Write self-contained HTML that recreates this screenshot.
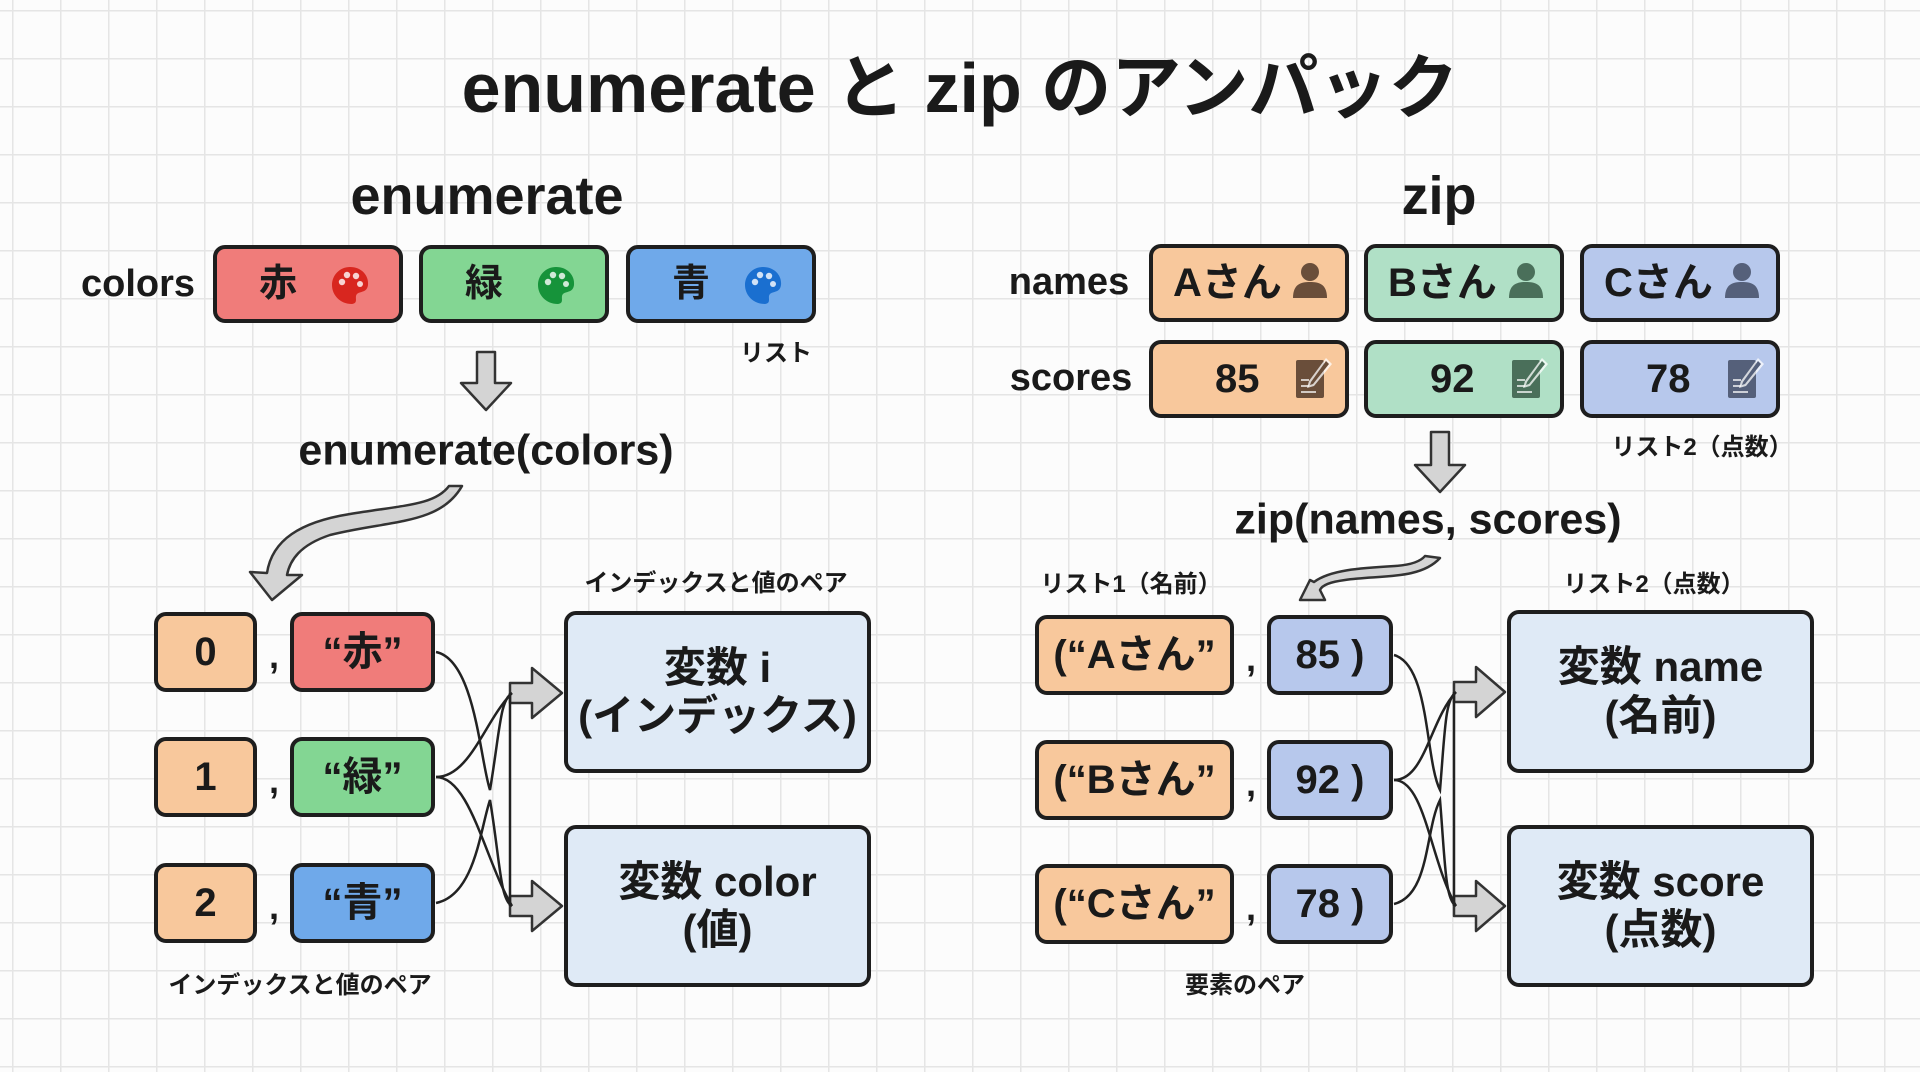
<!DOCTYPE html>
<html><head><meta charset="utf-8">
<style>
*{margin:0;padding:0;box-sizing:border-box}
body{width:1920px;height:1072px;position:relative;overflow:hidden;background:#fcfcfc;
background-image:linear-gradient(#e5e5e5 1.5px,transparent 1.5px),linear-gradient(90deg,#e5e5e5 1.5px,transparent 1.5px);background-size:48px 48px;background-position:12px 10px;
font-family:"Liberation Sans","Noto Sans CJK JP",sans-serif;font-weight:700;color:#1a1a1a}
.t{position:absolute;white-space:nowrap;transform:translate(-50%,-50%);line-height:1}
.b{position:absolute;border:4px solid #1e1e1e;border-radius:12px;display:flex;align-items:center;justify-content:center;line-height:1}
.r{background:#f07c7a}.g{background:#83d693}.bl{background:#6fa9ea}.o{background:#f8c89c}.m{background:#b0e0c6}.p{background:#b7c8ec}.lb{background:#dfeaf6}
svg{position:absolute;left:0;top:0}
</style></head><body>
<div class="t" style="left:960px;top:88px;font-size:70px">enumerate と zip のアンパック</div>
<div class="t" style="left:487px;top:196px;font-size:54px">enumerate</div>
<div class="t" style="left:1439px;top:196px;font-size:54px">zip</div>

<div class="t" style="left:138px;top:284px;font-size:38px">colors</div>
<div class="b r" style="left:213px;top:245px;width:190px;height:78px;font-size:38px">赤<span style="width:60px"></span></div>
<div class="b g" style="left:419px;top:245px;width:190px;height:78px;font-size:38px">緑<span style="width:60px"></span></div>
<div class="b bl" style="left:626px;top:245px;width:190px;height:78px;font-size:38px">青<span style="width:60px"></span></div>
<div class="t" style="left:776px;top:354px;font-size:24px">リスト</div>
<div class="t" style="left:486px;top:451px;font-size:43px">enumerate(colors)</div>

<div class="b o" style="left:154px;top:612px;width:103px;height:80px;font-size:40px">0</div>
<div class="b o" style="left:154px;top:737px;width:103px;height:80px;font-size:40px">1</div>
<div class="b o" style="left:154px;top:863px;width:103px;height:80px;font-size:40px">2</div>
<div class="t" style="left:274px;top:656px;font-size:36px">,</div>
<div class="t" style="left:274px;top:781px;font-size:36px">,</div>
<div class="t" style="left:274px;top:907px;font-size:36px">,</div>
<div class="b r" style="left:290px;top:612px;width:145px;height:80px;font-size:40px">“赤”</div>
<div class="b g" style="left:290px;top:737px;width:145px;height:80px;font-size:40px">“緑”</div>
<div class="b bl" style="left:290px;top:863px;width:145px;height:80px;font-size:40px">“青”</div>
<div class="t" style="left:716px;top:584px;font-size:24px">インデックスと値のペア</div>
<div class="t" style="left:300px;top:986px;font-size:24px">インデックスと値のペア</div>
<div class="b lb" style="left:564px;top:611px;width:307px;height:162px;font-size:42px;flex-direction:column;line-height:1.15">変数 i<br><span>(インデックス)</span></div>
<div class="b lb" style="left:564px;top:825px;width:307px;height:162px;font-size:42px;flex-direction:column;line-height:1.15">変数 color<br><span>(値)</span></div>

<div class="t" style="left:1069px;top:282px;font-size:38px">names</div>
<div class="t" style="left:1071px;top:378px;font-size:38px">scores</div>
<div class="b o" style="left:1149px;top:244px;width:200px;height:78px;font-size:40px;justify-content:flex-start;padding-left:20px">Aさん</div>
<div class="b m" style="left:1364px;top:244px;width:200px;height:78px;font-size:40px;justify-content:flex-start;padding-left:20px">Bさん</div>
<div class="b p" style="left:1580px;top:244px;width:200px;height:78px;font-size:40px;justify-content:flex-start;padding-left:20px">Cさん</div>
<div class="b o" style="left:1149px;top:340px;width:200px;height:78px;font-size:40px;justify-content:flex-start;padding-left:62px">85</div>
<div class="b m" style="left:1364px;top:340px;width:200px;height:78px;font-size:40px;justify-content:flex-start;padding-left:62px">92</div>
<div class="b p" style="left:1580px;top:340px;width:200px;height:78px;font-size:40px;justify-content:flex-start;padding-left:62px">78</div>
<div class="t" style="left:1702px;top:448px;font-size:24px">リスト2（点数）</div>
<div class="t" style="left:1428px;top:520px;font-size:43px">zip(names, scores)</div>
<div class="t" style="left:1131px;top:585px;font-size:24px">リスト1（名前）</div>
<div class="t" style="left:1654px;top:585px;font-size:24px">リスト2（点数）</div>

<div class="b o" style="left:1035px;top:615px;width:199px;height:80px;font-size:40px">(“Aさん”</div>
<div class="b o" style="left:1035px;top:740px;width:199px;height:80px;font-size:40px">(“Bさん”</div>
<div class="b o" style="left:1035px;top:864px;width:199px;height:80px;font-size:40px">(“Cさん”</div>
<div class="t" style="left:1251px;top:659px;font-size:36px">,</div>
<div class="t" style="left:1251px;top:784px;font-size:36px">,</div>
<div class="t" style="left:1251px;top:908px;font-size:36px">,</div>
<div class="b p" style="left:1267px;top:615px;width:126px;height:80px;font-size:40px">85 )</div>
<div class="b p" style="left:1267px;top:740px;width:126px;height:80px;font-size:40px">92 )</div>
<div class="b p" style="left:1267px;top:864px;width:126px;height:80px;font-size:40px">78 )</div>
<div class="t" style="left:1245px;top:986px;font-size:24px">要素のペア</div>
<div class="b lb" style="left:1507px;top:610px;width:307px;height:163px;font-size:42px;flex-direction:column;line-height:1.15">変数 name<br><span>(名前)</span></div>
<div class="b lb" style="left:1507px;top:825px;width:307px;height:162px;font-size:42px;flex-direction:column;line-height:1.15">変数 score<br><span>(点数)</span></div>

<svg width="1920" height="1072" viewBox="0 0 1920 1072">
<defs>
<g id="pal"><path d="M0,-18 C12,-18 19,-9 18,0 C17,8 10,6 7,9 C4,12 9,18 2,19 C-10,19 -18,10 -18,0 C-18,-10 -10,-18 0,-18Z"/><circle cx="-8" cy="-3" r="3.2" fill="#fff" opacity=".8"/><circle cx="-3" cy="-10" r="3.2" fill="#fff" opacity=".8"/><circle cx="6" cy="-9" r="3.2" fill="#fff" opacity=".8"/><circle cx="10" cy="-1" r="3" fill="#fff" opacity=".8"/></g>
<g id="per"><circle cx="0" cy="-9" r="9"/><path d="M-17,17 C-17,3 -9,1 0,1 C9,1 17,3 17,17Z"/></g>
<g id="note"><rect x="-16" y="-20" width="28" height="38" rx="2"/><g stroke="#fff" stroke-width="2" opacity=".7"><line x1="-11" y1="0" x2="-3" y2="0"/><line x1="-11" y1="6" x2="-3" y2="6"/><line x1="-11" y1="12" x2="4" y2="12"/></g><path d="M14,-22 L20,-16 L2,6 L-5,8 L-3,1Z" fill="#fff" opacity=".75"/><path d="M14,-19 L17,-16 L1,4 L-2,5 L-1,2Z"/></g>
</defs>
<use href="#pal" x="350" y="285" fill="#d8261f"/>
<use href="#pal" x="556" y="285" fill="#16933a"/>
<use href="#pal" x="763" y="285" fill="#1a6fd0"/>
<use href="#per" x="1310" y="281" fill="#6a4e3a"/>
<use href="#per" x="1526" y="281" fill="#4a6f5a"/>
<use href="#per" x="1742" y="281" fill="#55607a"/>
<use href="#note" x="1312" y="380" fill="#6a4e3a"/>
<use href="#note" x="1528" y="380" fill="#4a6f5a"/>
<use href="#note" x="1744" y="380" fill="#55607a"/>
<g fill="#d4d4d4" stroke="#333" stroke-width="2.5" stroke-linejoin="round">
<path d="M477,352 L495,352 L495,383 L511,383 L486,410 L461,383 L477,383Z"/>
<path d="M1431,432 L1449,432 L1449,465 L1465,465 L1440,492 L1415,465 L1431,465Z"/>
<path d="M449,486 L462,486 C440,525 390,520 330,535 C300,545 290,560 287,575 L302,575 L272,600 L250,572 L267,573 C272,540 300,522 350,514 C405,505 435,505 449,486Z"/>
<path d="M1425,556 L1440,558 C1420,580 1380,575 1345,580 C1330,582 1322,585 1320,590 L1325,600 L1300,600 L1310,580 L1314,582 C1330,570 1360,568 1395,566 C1410,565 1420,562 1425,556Z"/>
<path d="M510,683 L532,683 L532,668 L562,693 L532,718 L532,703 L510,703Z"/>
<path d="M510,896 L532,896 L532,881 L562,906 L532,931 L532,916 L510,916Z"/>
<path d="M1454,682 L1476,682 L1476,667 L1505,692 L1476,717 L1476,702 L1454,702Z"/>
<path d="M1454,896 L1476,896 L1476,881 L1505,906 L1476,931 L1476,916 L1454,916Z"/>
</g>
<g fill="none" stroke="#222" stroke-width="2.5">
<path d="M436,652 C475,660 480,760 490,790 C500,730 500,700 512,693"/>
<path d="M436,777 C470,777 485,720 512,693"/>
<path d="M436,777 C470,777 485,860 512,906"/>
<path d="M436,903 C475,895 480,830 490,800 C500,860 500,900 512,906"/>
<line x1="510" y1="693" x2="510" y2="906"/>
<path d="M1394,655 C1430,665 1425,760 1440,790 C1445,730 1445,700 1456,692"/>
<path d="M1394,780 C1425,780 1430,720 1456,692"/>
<path d="M1394,780 C1425,780 1430,860 1456,906"/>
<path d="M1394,904 C1430,895 1425,830 1440,800 C1445,860 1445,900 1456,906"/>
<line x1="1454" y1="692" x2="1454" y2="906"/>
</g>
</svg>
</body></html>
